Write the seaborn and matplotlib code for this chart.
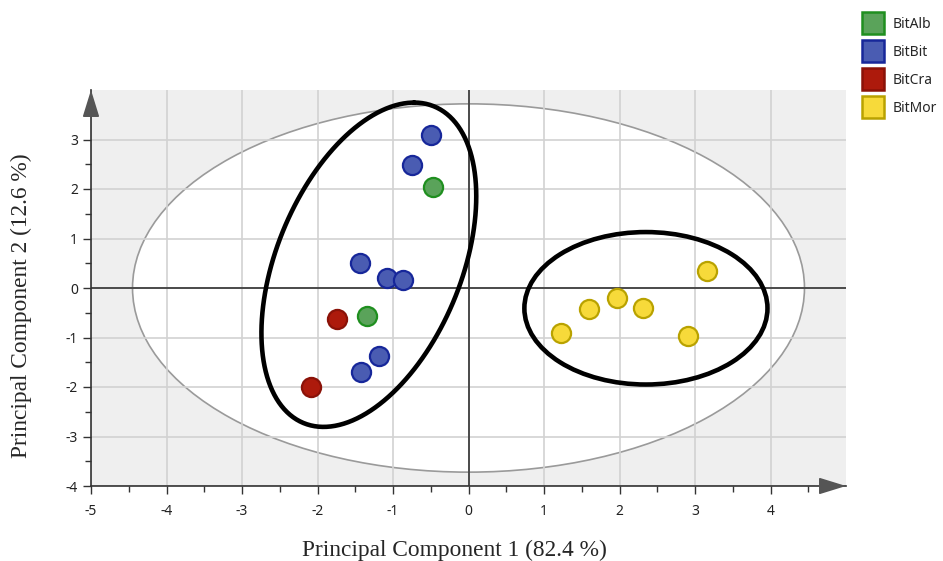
import numpy as np
import matplotlib
matplotlib.use("Agg")
import matplotlib.pyplot as plt
from matplotlib.patches import Ellipse
from matplotlib.lines import Line2D
import seaborn as sns

# PCA scores
groups = ["BitAlb", "BitBit", "BitCra", "BitMor"]
pc1 = {
    "BitAlb": [-0.47, -1.34],
    "BitBit": [-0.50, -0.745, -1.44, -1.08, -0.87, -1.19, -1.43],
    "BitCra": [-1.74, -2.09],
    "BitMor": [3.16, 1.97, 1.60, 2.31, 1.22, 2.91],
}
pc2 = {
    "BitAlb": [2.04, -0.57],
    "BitBit": [3.09, 2.48, 0.50, 0.20, 0.16, -1.38, -1.70],
    "BitCra": [-0.62, -2.00],
    "BitMor": [0.35, -0.21, -0.43, -0.40, -0.90, -0.96],
}
fills = {"BitAlb": "#5aa35a", "BitBit": "#4a5cb2", "BitCra": "#ad1a0c", "BitMor": "#f7da3a"}
edges = {"BitAlb": "#1f8f1f", "BitBit": "#17279a", "BitCra": "#8a1208", "BitMor": "#b9a200"}

# Hotelling T2 ellipse (semi axes) and the two hand-drawn cluster ellipses
t2_axes = (4.45, 3.72)
left_center = (-1.32, 0.47)
left_u = (0.60, 3.276)
left_v = (1.29, 0.0)
right_center = (2.35, -0.41)
right_axes = (1.61, 1.54)

x_ticks = [-5, -4, -3, -2, -1, 0, 1, 2, 3, 4]
y_ticks = [-4, -3, -2, -1, 0, 1, 2, 3]

sns.set_style("white")
plt.rcParams["font.family"] = ["Noto Sans", "DejaVu Sans"]
plt.rcParams["axes.unicode_minus"] = False

dpi = 100
fig = plt.figure(figsize=(943 / dpi, 561 / dpi), dpi=dpi)
ax = fig.add_axes([91 / 943, 1 - 486 / 561, 755 / 943, 396 / 561])
ax.set_facecolor("#efefef")
ax.set_xlim(-5, 5)
ax.set_ylim(-4, 4)

ax.add_patch(Ellipse((0, 0), 2 * t2_axes[0], 2 * t2_axes[1], facecolor="white",
                     edgecolor="#9a9a9a", lw=1.2, zorder=0.3))
ax.set_axisbelow(True)
ax.axhline(0, color="#333333", lw=1.2, zorder=0.6)
ax.axvline(0, color="#333333", lw=1.2, zorder=0.6)

for g in groups:
    sns.scatterplot(x=pc1[g], y=pc2[g], ax=ax, s=190, color=fills[g],
                    edgecolor=edges[g], linewidth=1.6, zorder=3, legend=False)

t = np.linspace(0, 2 * np.pi, 300)
ax.plot(left_center[0] + left_u[0] * np.cos(t) + left_v[0] * np.sin(t),
        left_center[1] + left_u[1] * np.cos(t) + left_v[1] * np.sin(t),
        color="black", lw=3.3, zorder=4)
ax.add_patch(Ellipse(right_center, 2 * right_axes[0], 2 * right_axes[1],
                     facecolor="none", edgecolor="black", lw=3.3, zorder=4))

# ticks: labelled majors with gridlines, minors at halves
ax.set_xticks(x_ticks)
ax.set_yticks(y_ticks)
ax.set_xticks(np.arange(-4.5, 5, 1), minor=True)
ax.set_yticks(np.arange(-3.5, 4, 1), minor=True)
ax.tick_params(which="major", direction="out", length=6, width=1, color="#333333",
               labelsize=10, labelcolor="#222222", left=True, bottom=True)
ax.tick_params(axis="x", which="major", pad=7)
ax.tick_params(which="minor", direction="out", length=4, width=1, color="#333333",
               left=True, bottom=True)
ax.grid(True, which="major", color="#d2d2d2", lw=1.2)

for s in ["top", "right"]:
    ax.spines[s].set_visible(False)
for s in ["left", "bottom"]:
    ax.spines[s].set_color("#333333")
    ax.spines[s].set_linewidth(1.2)

arrow = dict(arrowstyle="-|>,head_length=0.42,head_width=0.13", color="#555555",
             lw=1.2, mutation_scale=40, shrinkA=0, shrinkB=0)
ax.annotate("", xy=(1, 0), xytext=(0.96, 0), xycoords="axes fraction",
            arrowprops=arrow, annotation_clip=False)
ax.annotate("", xy=(0, 1.0), xytext=(0, 0.94), xycoords="axes fraction",
            arrowprops=arrow, annotation_clip=False)

ax.set_xlabel("Principal Component 1 (82.4 %)", family="Liberation Serif", fontsize=16.8)
ax.set_ylabel("Principal Component 2 (12.6 %)", family="Liberation Serif", fontsize=16.8)
ax.xaxis.set_label_coords(0.482, -0.135)
ax.yaxis.set_label_coords(-0.078, 0.455)

handles = [Line2D([], [], marker="s", ls="", ms=16, markerfacecolor=fills[g],
                  markeredgecolor=edges[g], markeredgewidth=1.8) for g in groups]
fig.legend(handles, groups, loc="upper left", bbox_to_anchor=(856 / 943, 1 - 11 / 561),
           frameon=False, fontsize=10, handletextpad=0.6, labelspacing=0.95,
           handlelength=1.65, borderaxespad=0)

fig.savefig("out.png", dpi=dpi)
